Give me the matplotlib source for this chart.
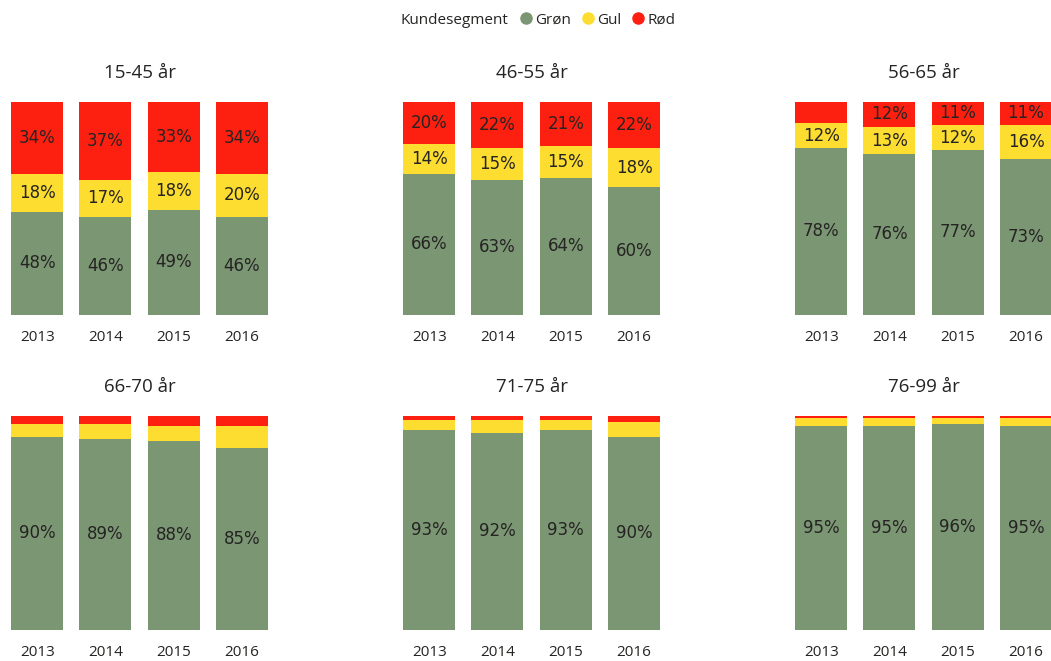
import numpy as np
import matplotlib.pyplot as plt
from matplotlib.lines import Line2D

# Andel kunder per segment (%), per aldersgruppe og år
YEARS = ["2013", "2014", "2015", "2016"]
GROUPS = ["15-45 år", "46-55 år", "56-65 år", "66-70 år", "71-75 år", "76-99 år"]

GRON = [
    [48, 46, 49, 46],
    [66, 63, 64, 60],
    [78, 76, 77, 73],
    [90, 89, 88, 85],
    [93, 92, 93, 90],
    [95, 95, 96, 95],
]
GUL = [
    [18, 17, 18, 20],
    [14, 15, 15, 18],
    [12, 13, 12, 16],
    [6, 7, 7, 10],
    [5, 6, 5, 7],
    [4, 4, 3, 4],
]
ROD = [
    [34, 37, 33, 34],
    [20, 22, 21, 22],
    [10, 12, 11, 11],
    [4, 4, 5, 5],
    [2, 2, 2, 3],
    [1, 1, 1, 1],
]

SEGMENTS = ["Grøn", "Gul", "Rød"]
COLORS = ["#7b9673", "#fddd30", "#fd2010"]
LABEL_MIN = 11  # smaller segments get no label

W, H = 1051, 661
fig = plt.figure(figsize=(W / 100, H / 100), dpi=100)

# panel placement in pixels: left edge of axes, top of bars, bottom of bars
col_left = [3, 395, 787]
row_top = [101.5, 415.5]
row_bottom = [314.5, 629.5]
axes_w = 4 * 68.3

for g, name in enumerate(GROUPS):
    r, c = divmod(g, 3)
    ax = fig.add_axes([col_left[c] / W, 1 - row_bottom[r] / H,
                       axes_w / W, (row_bottom[r] - row_top[r]) / H])
    x = np.arange(len(YEARS))
    data = np.array([GRON[g], GUL[g], ROD[g]], dtype=float)
    share = data / data.sum(axis=0) * 100  # 100 % stacked
    bottom = np.zeros(len(YEARS))
    for vals, pct, color in zip(data, share, COLORS):
        ax.bar(x, pct, 0.76, bottom=bottom, color=color, linewidth=0)
        for xi, v, p, b in zip(x, vals, pct, bottom):
            if v >= LABEL_MIN:
                ax.text(xi, b + p / 2, f"{int(v)}%", ha="center", va="center",
                        fontsize=12, color="#252423", family="DejaVu Sans")
        bottom += pct
    ax.set_xlim(-0.5, 3.5)
    ax.set_ylim(0, 100)
    ax.set_xticks(x)
    ax.set_xticklabels(YEARS, fontsize=11, color="#252423", family="Open Sans")
    ax.tick_params(length=0, pad=11)
    ax.set_yticks([])
    for s in ax.spines.values():
        s.set_visible(False)
    ax.set_title(name, fontsize=13.5, color="#252423", family="Open Sans", pad=17)

# legend row at the top
fig.text(508 / W, 1 - 20 / H, "Kundesegment", ha="right", va="center",
         fontsize=11, color="#252423", family="Open Sans")
handles = [Line2D([], [], marker="o", linestyle="", markersize=8,
                  markerfacecolor=col, markeredgecolor=col) for col in COLORS]
fig.legend(handles, SEGMENTS, loc="center left", bbox_to_anchor=(503 / W, 1 - 20 / H),
           ncol=3, frameon=False, handletextpad=0.0, columnspacing=0.5,
           handlelength=1.2, prop={"family": "Open Sans", "size": 11},
           labelcolor="#252423")

fig.savefig("out.png", dpi=100)
